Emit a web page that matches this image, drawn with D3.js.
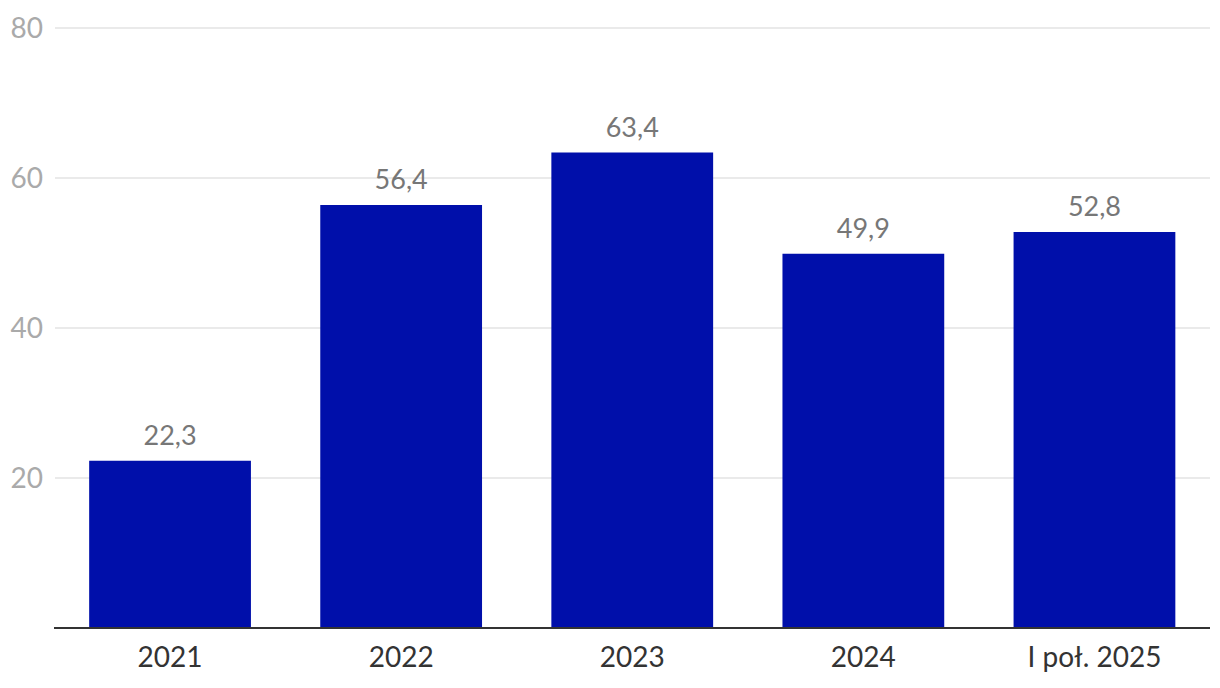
<!DOCTYPE html>
<html><head><meta charset="utf-8">
<script src="https://cdn.jsdelivr.net/npm/d3@7"></script>
<style>body{margin:0;background:#fff}svg{display:block}text{font-family:Lato,"Open Sans",sans-serif}</style>
</head><body><svg id="c" width="1220" height="688"></svg>
<script>
const categories = ["2021","2022","2023","2024","I poł. 2025"];
const values = [22.3,56.4,63.4,49.9,52.8];
const valueLabels = ["22,3","56,4","63,4","49,9","52,8"];
const yTicks = [20,40,60,80];

const svg = d3.select("#c");
const x = d3.scaleBand().domain(categories).range([54.5,1210]).paddingInner(0.3).paddingOuter(0.15);
const y = d3.scaleLinear().domain([0,80]).range([628,28]);

const g = svg.append("g");
g.selectAll(".grid").data(yTicks).join("line")
  .attr("x1",55).attr("x2",1210)
  .attr("y1",d=>y(d)).attr("y2",d=>y(d))
  .attr("stroke","#e3e3e3").attr("stroke-width",1.5);
g.selectAll(".yt").data(yTicks).join("text")
  .attr("x",43).attr("y",d=>y(d)).attr("dy","0.35em")
  .attr("text-anchor","end").attr("fill","#aaaaaa").attr("font-size",28)
  .text(d=>d);

g.selectAll(".bar").data(values).join("rect")
  .attr("x",(d,i)=>x(categories[i])).attr("width",x.bandwidth())
  .attr("y",d=>y(d)).attr("height",d=>y(0)-y(d))
  .attr("fill","#000faa");

g.selectAll(".vl").data(values).join("text")
  .attr("x",(d,i)=>x(categories[i])+x.bandwidth()/2).attr("y",d=>y(d)-16)
  .attr("text-anchor","middle").attr("fill","#777777").attr("font-size",27)
  .text((d,i)=>valueLabels[i]);

g.append("line").attr("x1",54).attr("x2",1210).attr("y1",y(0)).attr("y2",y(0))
  .attr("stroke","#333333").attr("stroke-width",2);

g.selectAll(".xl").data(categories).join("text")
  .attr("x",d=>x(d)+x.bandwidth()/2).attr("y",667)
  .attr("text-anchor","middle").attr("fill","#333333").attr("font-size",28)
  .text(d=>d);
</script></body></html>
